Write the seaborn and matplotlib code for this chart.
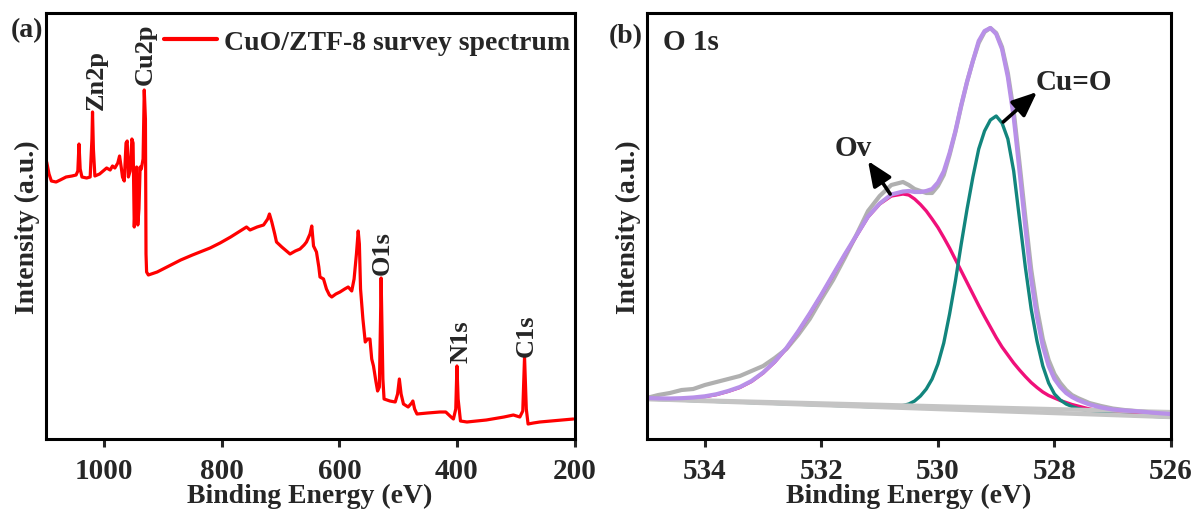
import numpy as np
import pandas as pd
import matplotlib
matplotlib.use("Agg")
import matplotlib.pyplot as plt
import seaborn as sns

# ---------------- (a) survey spectrum ----------------
survey_energy = [
    1098, 1094, 1090, 1082, 1075, 1065, 1055, 1048, 1045, 1043, 1041, 1038, 1030, 1024,
    1021, 1020, 1018.5, 1016, 1008, 1002, 996, 990, 986, 982, 977, 974, 971, 969, 966,
    963, 961, 959, 956, 953, 951, 949, 947, 945, 943, 941, 939, 937, 934, 932, 930, 929,
    928, 925, 920, 910, 890, 870, 850, 837, 820, 803, 785, 769, 758, 752, 740, 729, 722,
    719, 715, 710, 707, 698, 690, 684, 675, 667, 660, 656, 650, 647, 644, 639, 635, 633,
    627, 622, 617, 613, 606, 599, 591, 585, 579, 575, 571, 568, 566, 564, 560, 556, 552,
    548, 545, 542, 538, 535, 532, 530, 529, 527.5, 526, 524, 514, 505, 501, 498, 495, 491,
    483, 477, 475, 472, 468, 450, 429, 419, 410, 406, 402, 400, 398, 394, 383, 350, 320,
    304, 293, 288, 285, 282, 279, 270, 259, 240, 220, 202,
]
survey_counts = [
    277, 265, 258, 257, 259, 262, 263, 264, 268, 295, 270, 262, 261, 262,
    300, 327, 290, 263, 265, 268, 271, 269, 273, 271, 276, 283, 271, 262, 258,
    296, 298, 262, 268, 300, 296, 212, 240, 272, 214, 230, 272, 270, 280, 349, 320, 185,
    167, 164, 165, 167, 173, 179, 184, 187, 191, 196, 202, 208, 212, 209, 212, 214, 220,
    225, 217, 205, 197, 192, 188, 185, 188, 190, 194, 197, 205, 213, 193, 187, 172, 162,
    160, 150, 144, 142, 145, 147, 150, 152, 148, 160, 185, 208, 195, 150, 120, 97, 100,
    100, 80, 73, 58, 48, 52, 120, 161, 110, 60, 40, 38, 37, 45, 60, 45, 35,
    32, 36, 38, 30, 25, 26, 27, 27, 22, 20, 30, 73, 40, 18, 17, 19, 22,
    24, 22, 28, 82, 30, 15, 16, 17, 18, 19, 20,
]
survey_peaks = ["Zn2p", "Cu2p", "O1s", "N1s", "C1s"]
survey_peak_energy = [1013.5, 929.5, 526.5, 393.5, 281.5]
survey_peak_label_base = [330, 355, 165, 77, 83]

# ---------------- (b) O 1s high-resolution fit ----------------
o1s_energy = [
    535.0, 534.8, 534.6, 534.4, 534.2, 534.0, 533.8, 533.6, 533.4, 533.2, 533.0, 532.8,
    532.6, 532.4, 532.2, 532.0, 531.8, 531.6, 531.4, 531.2, 531.0, 530.8, 530.6, 530.5,
    530.4, 530.3, 530.2, 530.1, 530.0, 529.9, 529.8, 529.7, 529.6, 529.5, 529.4, 529.3,
    529.2, 529.1, 529.0, 528.9, 528.8, 528.7, 528.6, 528.5, 528.4, 528.3, 528.2, 528.1,
    528.0, 527.9, 527.8, 527.7, 527.6, 527.4, 527.2, 527.0, 526.8, 526.6, 526.4, 526.2,
    526.0,
]
o1s_raw = [
    41, 44, 46, 49, 50, 54, 57, 60, 63, 68, 73, 81,
    90, 104, 120, 140, 159, 181, 204, 228, 243, 254, 257, 254,
    250, 248, 246, 246, 253, 264, 284, 307, 333, 357, 378, 396,
    407, 411, 406, 392, 366, 328, 276, 222, 170, 131, 100, 79,
    65, 56, 49, 44, 41, 36, 33, 30.5, 29, 28, 27, 26,
    25,
]
o1s_envelope = [
    41, 40.6, 40.5, 40.8, 41.5, 42.7, 44.8, 48, 52, 58, 66.5, 77.5,
    91, 107.5, 125.5, 144.5, 164.5, 184.5, 203.5, 222.5, 235.5, 244.5, 247.5, 248,
    247, 247, 248, 250, 256.5, 267.7, 286, 308, 334, 357.5, 378, 398,
    408, 411, 405, 390, 362, 322, 268, 212, 160, 122, 93, 73,
    60, 52, 46, 42, 39, 34.5, 31.5, 29.5, 28.5, 27.8, 26.8, 25.8,
    25,
]
o1s_ov = [
    40, 40.1, 40.1, 40.4, 41.1, 42.3, 44.4, 47.6, 51.5, 57.5, 66, 77,
    90.5, 107, 125, 144, 164, 184, 203, 222, 235, 243, 245, 244,
    240, 234.5, 228, 220, 211.5, 201.5, 191, 179.5, 168, 156.5, 145, 133.5,
    122.5, 112, 101.5, 92, 84, 76, 69, 62.5, 56.5, 51.5, 47, 43.5,
    41, 38.5, 36.5, 34.5, 33, 30, 28, 26.5, 25.4, 24.4, 23.6, 22.9,
    22.3,
]
o1s_cuo = [
    40, 39.6, 39.2, 38.8, 38.4, 38, 37.6, 37.2, 36.8, 36.4, 36, 35.6,
    35.2, 34.8, 34.4, 34, 33.6, 33.2, 32.8, 32.4, 32.1, 32.1, 33.5, 35,
    38, 43, 50, 60, 75, 96, 125, 158, 195, 230, 262, 290,
    308, 319, 323, 316, 300, 268, 220, 172, 130, 98, 73, 56,
    45, 39, 35, 32.5, 30.5, 28, 26, 25, 24, 23.4, 22.9, 22.4,
    22,
]
background_energy = [535.0, 526.0]
background_upper = [40, 27]
background_lower = [40, 22]

# ---------------- styling ----------------
sns.set_style("ticks")
plt.rcParams["font.family"] = ["Liberation Serif", "DejaVu Serif"]
plt.rcParams["font.weight"] = "bold"
plt.rcParams["axes.labelweight"] = "bold"

W, H = 1196, 510
fig = plt.figure(figsize=(W / 100, H / 100), dpi=100)
ax_a = fig.add_axes([45.5 / W, 70 / H, 529 / W, 426 / H])
ax_b = fig.add_axes([646.6 / W, 70 / H, 524.4 / W, 426 / H])

# survey spectrum
survey_df = pd.DataFrame({"energy": survey_energy, "counts": survey_counts})
sns.lineplot(data=survey_df, x="energy", y="counts", ax=ax_a, color="#ff0000",
             lw=2.3, sort=False, estimator=None,
             label="CuO/ZTF-8 survey spectrum")
for name, e, base in zip(survey_peaks, survey_peak_energy, survey_peak_label_base):
    ax_a.text(e, base, name, rotation=90, ha="center", va="bottom",
              fontsize=19, fontweight="bold")
ax_a.set_xlim(1100, 200)
ax_a.set_xticks([1000, 800, 600, 400, 200])
leg = ax_a.legend(loc="center right", bbox_to_anchor=(0.992, 0.932), frameon=False,
                  fontsize=20, handlelength=1.9, handletextpad=0.25,
                  borderaxespad=0, borderpad=0)
for line in leg.get_lines():
    line.set_linewidth(3)

# O 1s fit
fit_df = pd.DataFrame({
    "energy": o1s_energy,
    "raw": o1s_raw,
    "envelope": o1s_envelope,
    "ov": o1s_ov,
    "cuo": o1s_cuo,
})
bg_df = pd.DataFrame({"energy": background_energy,
                      "upper": background_upper, "lower": background_lower})
sns.lineplot(data=fit_df, x="energy", y="raw", ax=ax_b, color="#b0b0b0", lw=3,
             sort=False, estimator=None)
sns.lineplot(data=fit_df, x="energy", y="ov", ax=ax_b, color="#f0107a", lw=2.4,
             sort=False, estimator=None)
sns.lineplot(data=fit_df, x="energy", y="cuo", ax=ax_b, color="#12857d", lw=2.4,
             sort=False, estimator=None)
sns.lineplot(data=bg_df, x="energy", y="upper", ax=ax_b, color="#c4c4c4", lw=3,
             sort=False, estimator=None)
sns.lineplot(data=bg_df, x="energy", y="lower", ax=ax_b, color="#c4c4c4", lw=3.2,
             sort=False, estimator=None)
sns.lineplot(data=fit_df, x="energy", y="envelope", ax=ax_b, color="#b890e8", lw=3,
             sort=False, estimator=None)
ax_b.set_xlim(535, 526)
ax_b.set_xticks([534, 532, 530, 528, 526])
ax_b.text(0.031, 0.932, "O 1s", transform=ax_b.transAxes, ha="left", va="center",
          fontsize=21, fontweight="bold")

arrow_style = dict(arrowstyle="-|>,head_length=0.75,head_width=0.32", color="black",
                   lw=2.6, mutation_scale=20, shrinkA=0, shrinkB=0)
ax_b.annotate("", xy=(531.20, 278), xytext=(530.82, 245), arrowprops=arrow_style)
ax_b.text(531.46, 291, "Ov", ha="center", va="center", fontsize=21, fontweight="bold")
ax_b.annotate("", xy=(528.30, 347), xytext=(528.88, 317), arrowprops=arrow_style)
ax_b.text(527.67, 357, "Cu=O", ha="center", va="center", fontsize=21, fontweight="bold")

for ax in (ax_a, ax_b):
    ax.set_ylim(0, 426)
    ax.set_yticks([])
    ax.set_xlabel("Binding Energy (eV)", fontsize=20, fontweight="bold", labelpad=-1)
    ax.set_ylabel("Intensity (a.u.)", fontsize=20, fontweight="bold", labelpad=4)
    for s in ax.spines.values():
        s.set_visible(True)
        s.set_linewidth(2.2)
        s.set_color("black")
    ax.tick_params(axis="x", direction="out", length=6, width=2.2, pad=7,
                   labelsize=21, top=False)
    for t in ax.get_xticklabels():
        t.set_fontweight("bold")

fig.text(27 / W, 1 - 31 / H, "(a)", ha="center", va="center", fontsize=20,
         fontweight="bold")
fig.text(626 / W, 1 - 37 / H, "(b)", ha="center", va="center", fontsize=20,
         fontweight="bold")

fig.savefig("out.png", dpi=100, facecolor="white")
